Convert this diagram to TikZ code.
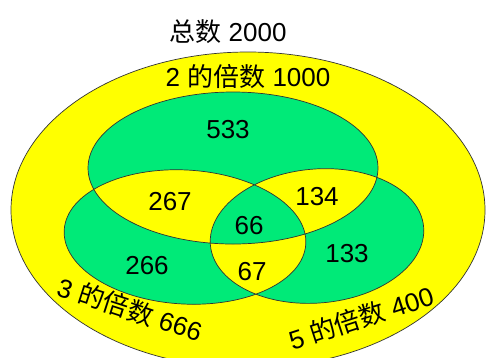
\documentclass[tikz,border=0pt]{standalone}
\usepackage{fontspec}
\setmainfont{Liberation Sans}
\newfontfamily\cjk{Noto Sans CJK SC}
\definecolor{vgreen}{RGB}{0,234,120}
\definecolor{vyellow}{RGB}{255,255,0}
\begin{document}
\begin{tikzpicture}[x=1pt,y=-1pt,
  lbl/.style={font=\fontsize{26}{30}\selectfont, inner sep=0pt},
  outline/.style={draw=black!80, line width=0.7pt}]
\useasboundingbox (0,0) rectangle (486,357);
\clip (0,0) rectangle (486,357);
\fill[white] (0,0) rectangle (486,357);
\filldraw[fill=vyellow, outline] (248,210) ellipse (237 and 158);
\path[fill=vgreen, even odd rule, outline]
  (233,168) ellipse (145 and 76)
  {[rotate around={-3.3:(185,237)}] (185,237) ellipse (121 and 67)}
  {[rotate around={4.8:(317,236)}] (317,236) ellipse (107 and 67)};
\node[lbl] (total) at (228,32) {{\cjk 总数} 2000};
\node[lbl] (two) at (248,77) {2 {\cjk 的倍数} 1000};
\node[lbl] (n533) at (228,130) {533};
\node[lbl] (n267) at (170,202) {267};
\node[lbl] (n134) at (317,197) {134};
\node[lbl] (n66) at (249,226) {66};
\node[lbl] (n266) at (147,266) {266};
\node[lbl] (n67) at (252,272) {67};
\node[lbl] (n133) at (347,254) {133};
\node[lbl, rotate=-18] (three) at (130,309) {3 {\cjk 的倍数} 666};
\node[lbl, rotate=18] (five) at (361,318) {5 {\cjk 的倍数} 400};
\end{tikzpicture}
\end{document}
